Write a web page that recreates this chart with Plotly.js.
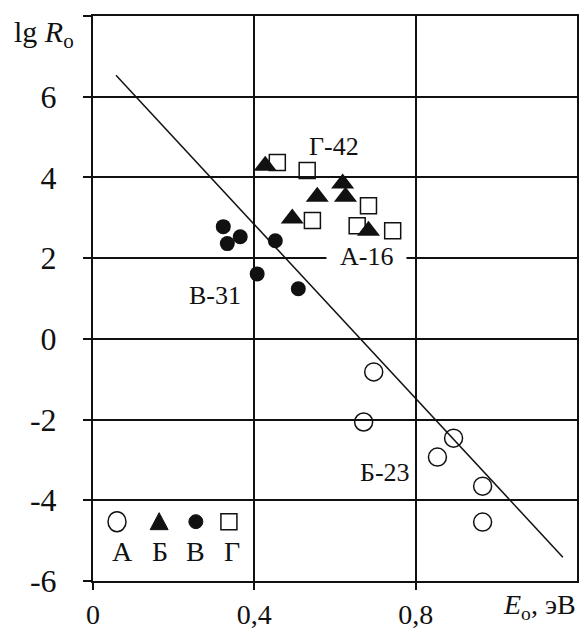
<!DOCTYPE html>
<html>
<head>
<meta charset="utf-8">
<script src="https://cdn.plot.ly/plotly-3.0.1.min.js"></script>
<style>
html,body{margin:0;padding:0;background:#fff;}
#chart{width:580px;height:629px;}
</style>
</head>
<body>
<div id="chart"></div>
<script>
// Series А (open circles)
const aX = [0.696, 0.671, 0.894, 0.854, 0.966, 0.966];
const aY = [-0.82, -2.06, -2.46, -2.93, -3.65, -4.54];
// Series Б (filled triangles)
const bX = [0.427, 0.556, 0.619, 0.626, 0.494, 0.683];
const bY = [4.29, 3.52, 3.85, 3.52, 2.98, 2.68];
// Series В (filled circles)
const vX = [0.323, 0.333, 0.365, 0.452, 0.407, 0.509];
const vY = [2.78, 2.36, 2.53, 2.43, 1.61, 1.24];
// Series Г (open squares)
const gX = [0.457, 0.531, 0.544, 0.683, 0.655, 0.743];
const gY = [4.37, 4.17, 2.93, 3.30, 2.80, 2.68];
// Trend line end points
const lineX = [0.057, 1.165];
const lineY = [6.53, -5.41];
// Axis ticks
const xTickVals = [0, 0.4, 0.8];
const xTickText = ['0', '0,4', '0,8'];
const yTickVals = [-6, -4, -2, 0, 2, 4, 6, 8];
const yTickText = ['-6', '-4', '-2', '0', '2', '4', '6', ''];
// Point labels
const labelText = ['Г-42', 'А-16', 'В-31', 'Б-23'];
const labelX = [0.598, 0.679, 0.302, 0.724];
const labelY = [4.76, 2.03, 1.07, -3.30];
// Legend keys
const legendLetters = ['А', 'Б', 'В', 'Г'];

const FONT = 'Liberation Serif, Times New Roman, serif';
const INK = '#111';

const traces = [
  {x: lineX, y: lineY, mode: 'lines', line: {color: INK, width: 1.5}, hoverinfo: 'skip'},
  {x: gX, y: gY, mode: 'markers', marker: {symbol: 'square-open', size: 16, color: INK, line: {width: 1.5, color: INK}}},
  {x: aX, y: aY, mode: 'markers', marker: {symbol: 'circle-open', size: 18, color: INK, line: {width: 1.5, color: INK}}},
  {x: vX, y: vY, mode: 'markers', marker: {symbol: 'circle', size: 15, color: INK}},
  {x: bX, y: bY, mode: 'markers', marker: {symbol: 'triangle-up', size: 20, color: INK}}
];

const annotations = [];
labelText.forEach((t, i) => {
  const isA16 = t === 'А-16';
  annotations.push({
    x: labelX[i], y: labelY[i], xref: 'x', yref: 'y',
    text: isA16 ? '\u00a0\u00a0' + t + '\u00a0\u00a0' : t,
    showarrow: false, font: {family: FONT, size: 26, color: INK},
    bgcolor: isA16 ? '#ffffff' : 'rgba(0,0,0,0)', borderpad: 0
  });
});
// legend letters
const legLetterX = [0.072, 0.166, 0.255, 0.345];
legendLetters.forEach((t, i) => {
  annotations.push({x: legLetterX[i], y: -5.28, xref: 'x', yref: 'y', text: t, showarrow: false,
    font: {family: FONT, size: 28, color: INK}});
});
// axis titles
annotations.push({x: -0.167, y: 0.968, xref: 'paper', yref: 'paper', xanchor: 'left', yanchor: 'middle',
  text: 'lg <i>R</i><sub>o</sub>', showarrow: false, font: {family: FONT, size: 30, color: INK}});
annotations.push({x: 1.003, y: -0.046, xref: 'paper', yref: 'paper', xanchor: 'right', yanchor: 'middle',
  text: '<i>E</i><sub>o</sub>, эВ', showarrow: false, font: {family: FONT, size: 28, color: INK}});

// legend key symbols as shapes (pixel-sized around anchors)
const shapes = [
  {type: 'circle', xref: 'x', yref: 'y', xsizemode: 'pixel', ysizemode: 'pixel',
   xanchor: 0.0595, yanchor: -4.53, x0: -9, x1: 9, y0: -10, y1: 10,
   line: {color: INK, width: 1.5}, fillcolor: 'rgba(0,0,0,0)'},
  {type: 'path', xref: 'x', yref: 'y', xsizemode: 'pixel', ysizemode: 'pixel',
   xanchor: 0.164, yanchor: -4.53, path: 'M -9 -8 L 9 -8 L 0 9 Z',
   line: {color: INK, width: 1}, fillcolor: INK},
  {type: 'circle', xref: 'x', yref: 'y', xsizemode: 'pixel', ysizemode: 'pixel',
   xanchor: 0.255, yanchor: -4.53, x0: -7, x1: 7, y0: -7, y1: 7,
   line: {color: INK, width: 1}, fillcolor: INK},
  {type: 'rect', xref: 'x', yref: 'y', xsizemode: 'pixel', ysizemode: 'pixel',
   xanchor: 0.337, yanchor: -4.53, x0: -8, x1: 8, y0: -8, y1: 8,
   line: {color: INK, width: 1.5}, fillcolor: 'rgba(0,0,0,0)'}
];

const layout = {
  width: 580, height: 629,
  margin: {l: 93, r: 3, t: 16, b: 48},
  paper_bgcolor: '#ffffff', plot_bgcolor: '#ffffff',
  showlegend: false,
  xaxis: {
    range: [0, 1.2], tickvals: xTickVals, ticktext: xTickText,
    showgrid: true, gridcolor: INK, gridwidth: 2,
    showline: true, linecolor: INK, linewidth: 2, mirror: true,
    ticks: 'outside', ticklen: 7, tickwidth: 2, tickcolor: INK,
    ticklabelstandoff: 0,
    zeroline: false, tickfont: {family: FONT, size: 28, color: INK}
  },
  yaxis: {
    range: [-6, 8], tickvals: yTickVals, ticktext: yTickText,
    showgrid: true, gridcolor: INK, gridwidth: 2,
    showline: true, linecolor: INK, linewidth: 2, mirror: true,
    ticks: 'outside', ticklen: 8, tickwidth: 2, tickcolor: INK,
    ticklabelstandoff: 20,
    zeroline: false, tickfont: {family: FONT, size: 32, color: INK}
  },
  annotations: annotations,
  shapes: shapes
};

Plotly.newPlot('chart', traces, layout, {staticPlot: true, displayModeBar: false});
</script>
</body>
</html>
